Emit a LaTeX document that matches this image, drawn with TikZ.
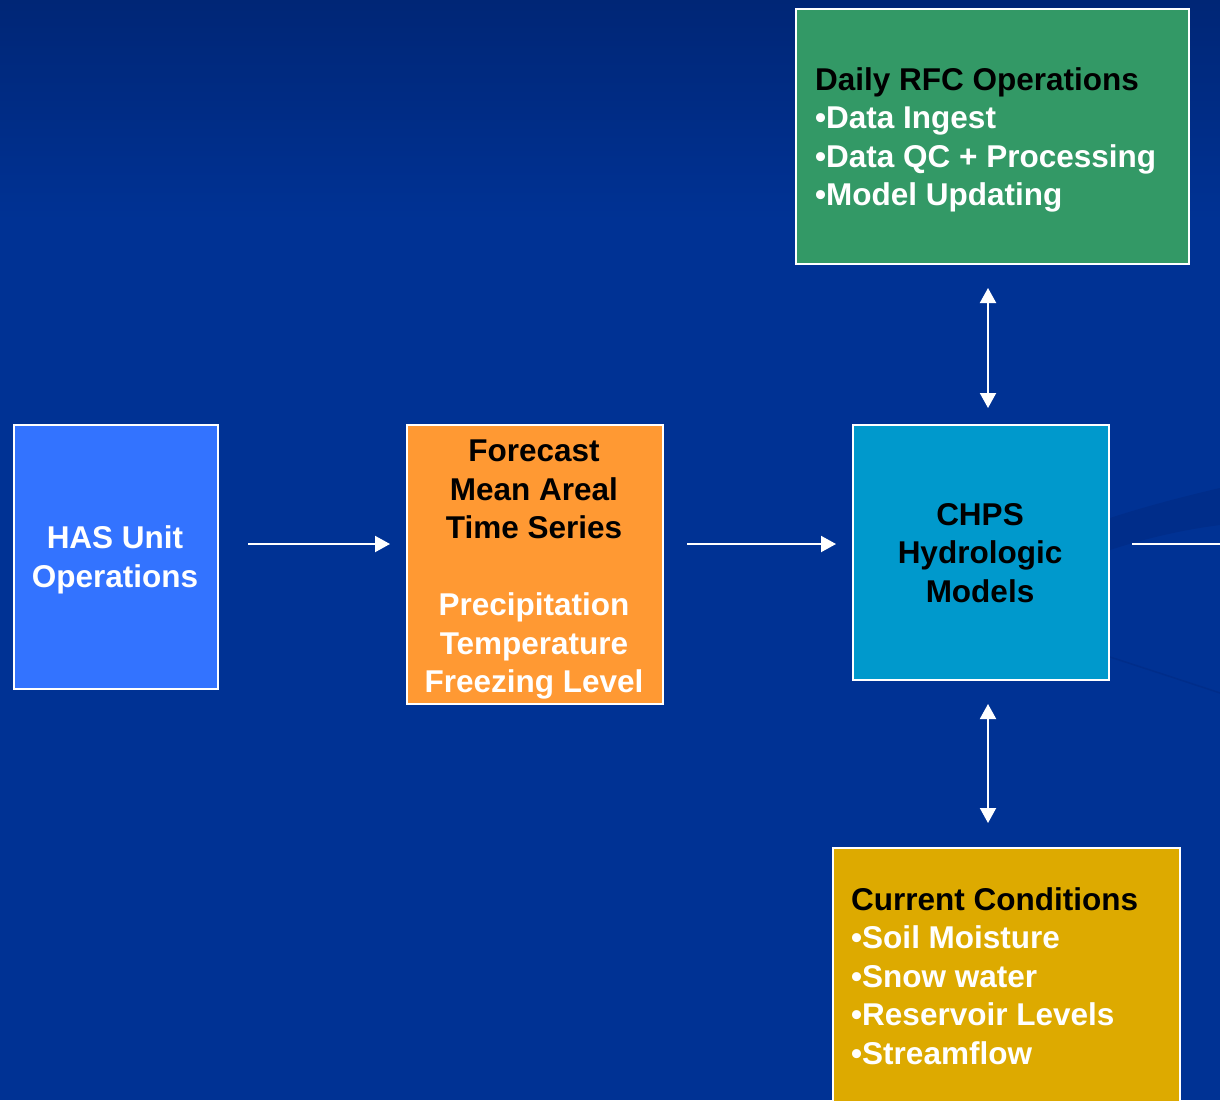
\documentclass[tikz,border=0pt]{standalone}
\usepackage{fontspec}
\setmainfont{Liberation Sans}
\usetikzlibrary{arrows.meta}
\definecolor{bgtop}{RGB}{0,38,118}
\definecolor{bgmid}{RGB}{0,50,148}
\definecolor{hasblue}{RGB}{51,115,255}
\definecolor{fcorange}{RGB}{255,153,51}
\definecolor{chpsblue}{RGB}{0,153,204}
\definecolor{dailygreen}{RGB}{51,153,102}
\definecolor{curgold}{RGB}{221,170,0}
\definecolor{swoosh}{RGB}{0,45,138}
\tikzset{
  box/.style={draw=white, line width=2pt, inner sep=0pt},
  txt/.style={font=\bfseries\fontsize{31.5}{38.5}\selectfont, inner sep=0pt},
  conn/.style={draw=white, line width=2pt, -{Triangle[width=16pt,length=15pt]}},
  bconn/.style={draw=white, line width=2pt, {Triangle[width=16pt,length=15pt]}-{Triangle[width=16pt,length=15pt]}},
}
\begin{document}
\begin{tikzpicture}[x=1pt,y=-1pt]
\useasboundingbox (0,0) rectangle (1220,1100);
\shade[top color=bgtop, bottom color=bgmid, shading angle=0] (0,0) rectangle (1220,220);
\fill[bgmid] (0,219) rectangle (1220,1100);
% swooshes
\fill[swoosh] (1110,518) .. controls (1150,505) and (1190,495) .. (1220,488) -- (1220,525) .. controls (1180,530) and (1140,540) .. (1110,550) -- cycle;
\draw[swoosh, line width=1.5pt] (1110,657) .. controls (1150,670) and (1190,683) .. (1220,693);
% boxes
\node[box, fill=hasblue, minimum width=204pt, minimum height=264pt, anchor=north west] (has) at (13,424) {};
\node[box, fill=fcorange, minimum width=256pt, minimum height=279pt, anchor=north west] (fc) at (406,424) {};
\node[box, fill=chpsblue, minimum width=256pt, minimum height=255pt, anchor=north west] (chps) at (852,424) {};
\node[box, fill=dailygreen, minimum width=393pt, minimum height=255pt, anchor=north west] (daily) at (795,8) {};
\node[box, fill=curgold, minimum width=347pt, minimum height=270pt, anchor=north west] (cur) at (832,847) {};
% texts
\node[txt, text=white, align=center] (hast) at (115,560) {HAS Unit\\Operations};
\node[txt, align=center, anchor=north] (fct) at (534,440) {\textcolor{black}{Forecast}\\\textcolor{black}{Mean Areal}\\\textcolor{black}{Time Series}\\[38.5pt]\textcolor{white}{Precipitation}\\\textcolor{white}{Temperature}\\\textcolor{white}{Freezing Level}};
\node[txt, text=black, align=center] (chpst) at (980,553) {CHPS\\Hydrologic\\Models};
\node[txt, align=left, anchor=north west] (dailyt) at (815,67) {\textcolor{black}{Daily RFC Operations}\\\textcolor{white}{•Data Ingest}\\\textcolor{white}{•Data QC + Processing}\\\textcolor{white}{•Model Updating}};
\node[txt, align=left, anchor=north west] (curt) at (851,887) {\textcolor{black}{Current Conditions}\\\textcolor{white}{•Soil Moisture}\\\textcolor{white}{•Snow water}\\\textcolor{white}{•Reservoir Levels}\\\textcolor{white}{•Streamflow}};
% connectors
\coordinate (a1s) at (248,544); \coordinate (a1e) at (390,544);
\coordinate (a2s) at (687,544); \coordinate (a2e) at (836,544);
\coordinate (a3s) at (1132,544); \coordinate (a3e) at (1220,544);
\coordinate (a4s) at (988,288); \coordinate (a4e) at (988,408);
\coordinate (a5s) at (988,704); \coordinate (a5e) at (988,823);
\draw[conn] (a1s) -- (a1e);
\draw[conn] (a2s) -- (a2e);
\draw[draw=white, line width=2pt] (a3s) -- (a3e);
\draw[bconn] (a4s) -- (a4e);
\draw[bconn] (a5s) -- (a5e);
\end{tikzpicture}
\end{document}
